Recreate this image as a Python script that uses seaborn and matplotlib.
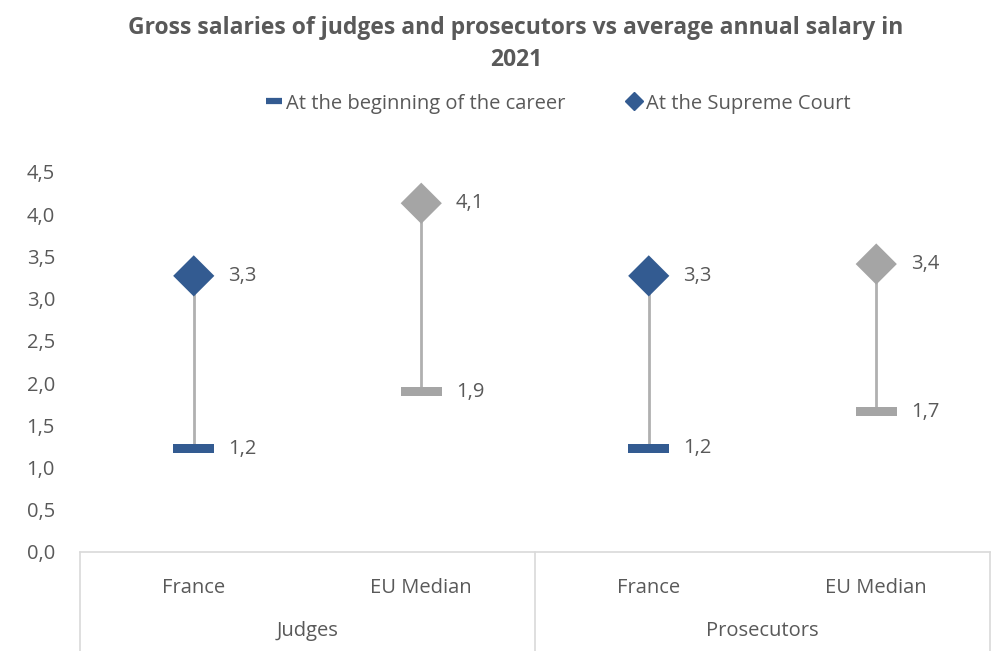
import numpy as np
import pandas as pd
import seaborn as sns
import matplotlib.pyplot as plt
from matplotlib.lines import Line2D

# data
groups = ['Judges', 'Judges', 'Prosecutors', 'Prosecutors']
countries = ['France', 'EU Median', 'France', 'EU Median']
career_start = [1.22, 1.90, 1.23, 1.66]
supreme_court = [3.27, 4.13, 3.27, 3.41]
yticks = [0.0, 0.5, 1.0, 1.5, 2.0, 2.5, 3.0, 3.5, 4.0, 4.5]

BLUE = '#335B91'
GREY = '#A5A5A5'
TEXT = '#595959'
AXIS = '#D9D9D9'
FS = 14.5

df = pd.DataFrame({
    'group': groups,
    'country': countries,
    'start': career_start,
    'supreme': supreme_court,
})
df['pos'] = np.arange(len(df))
palette = {'France': BLUE, 'EU Median': GREY}

sns.set_theme(style='white')
plt.rcParams['font.family'] = ['Open Sans', 'DejaVu Sans']

fig = plt.figure(figsize=(10.06, 6.51), dpi=100)
ax = fig.add_axes([80 / 1006, 1 - 552 / 651, 910 / 1006, 380 / 651])

# stems
ax.vlines(df['pos'], df['start'], df['supreme'], color='#B0B0B0', lw=2, zorder=1)

bar_marker = [(-1, -0.22), (1, -0.22), (1, 0.22), (-1, 0.22), (-1, -0.22)]
sns.scatterplot(data=df, x='pos', y='start', hue='country', palette=palette,
                marker=bar_marker, s=870, linewidth=0, legend=False, ax=ax, zorder=3)
sns.scatterplot(data=df, x='pos', y='supreme', hue='country', palette=palette,
                marker='D', s=440, linewidth=0, legend=False, ax=ax, zorder=3)

def fmt(v):
    return f'{v:.1f}'.replace('.', ',')

for _, r in df.iterrows():
    for col in ['start', 'supreme']:
        ax.annotate(fmt(r[col]), (r['pos'], r[col]), xytext=(25, 0),
                    textcoords='offset points', va='center', ha='left',
                    fontsize=FS, color=TEXT)

ax.set_xlim(-0.5, 3.5)
ax.set_ylim(0, 4.5)
ax.set_yticks(yticks)
ax.set_yticklabels([fmt(t) for t in yticks])
ax.set_xticks(df['pos'])
ax.set_xticklabels(df['country'])
ax.tick_params(axis='x', length=0, pad=19, labelsize=FS, labelcolor=TEXT)
ax.tick_params(axis='y', length=0, pad=18, labelsize=FS, labelcolor=TEXT)
ax.set_xlabel('')
ax.set_ylabel('')
for side in ['top', 'right', 'left']:
    ax.spines[side].set_visible(False)
ax.spines['bottom'].set_color(AXIS)
ax.spines['bottom'].set_linewidth(1.2)

# group separators and group labels
trans = ax.get_xaxis_transform()
for x in [-0.5, 1.5, 3.5]:
    ax.plot([x, x], [0, -0.27], transform=trans, color=AXIS, lw=1.2, clip_on=False)
for name, x in [('Judges', 0.5), ('Prosecutors', 2.5)]:
    ax.text(x, -0.208, name, transform=trans, ha='center', va='center',
            fontsize=FS, color=TEXT)

fig.text(0.513, 0.933, 'Gross salaries of judges and prosecutors vs average annual salary in\n2021',
         ha='center', va='center', fontsize=16.5, fontweight='bold', color=TEXT,
         linespacing=1.45)

handles = [
    Line2D([], [], color=BLUE, marker='_', ls='', markersize=12, markeredgewidth=4.5),
    Line2D([], [], color=BLUE, marker='D', ls='', markersize=9),
]
fig.legend(handles, ['At the beginning of the career', 'At the Supreme Court'],
           loc='center', bbox_to_anchor=(0.555, 0.841), ncol=2, frameon=False,
           fontsize=FS, labelcolor=TEXT, handlelength=0.8, handletextpad=0.2,
           columnspacing=3.0)

fig.savefig('out.png', dpi=100)
